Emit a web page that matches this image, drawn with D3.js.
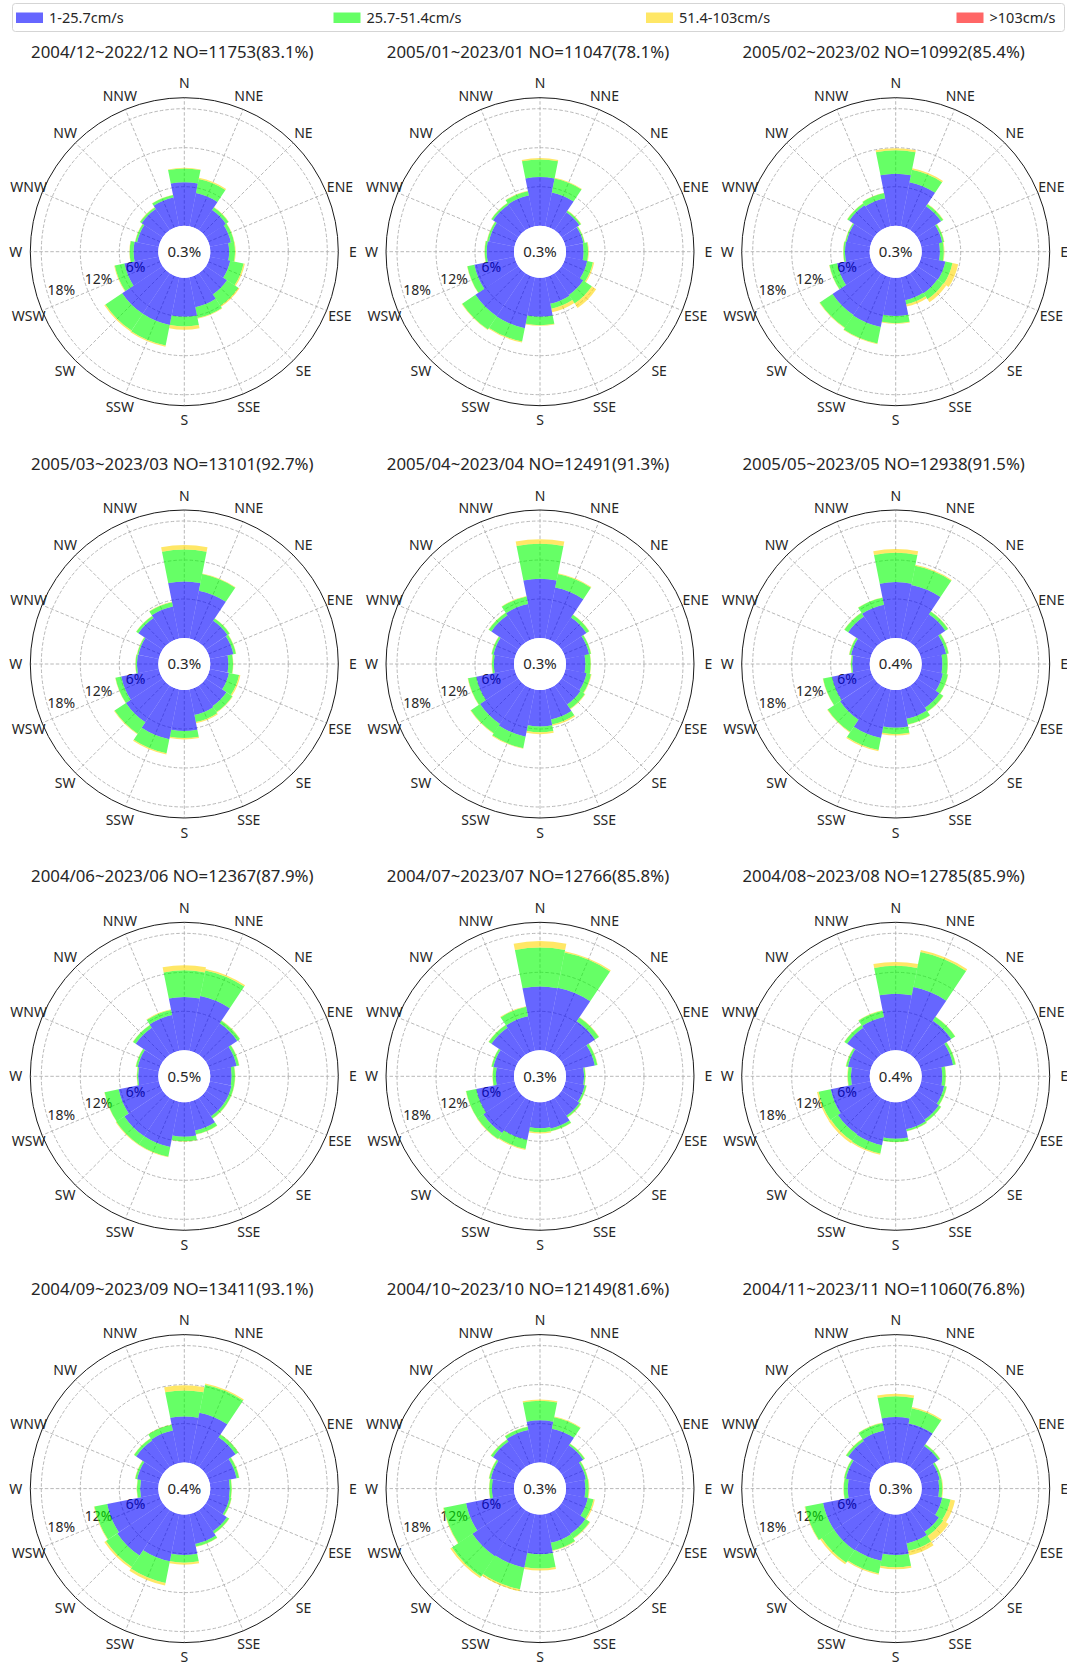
<!DOCTYPE html>
<html>
<head>
<meta charset="utf-8">
<script src="https://cdn.jsdelivr.net/npm/d3@7"></script>
<style>
  html, body { margin: 0; padding: 0; background: #ffffff; }
  svg { display: block; }
  text { font-family: "Noto Sans", "Open Sans", sans-serif; fill: #262626; }
</style>
</head>
<body>
<svg id="chart" width="1067" height="1664"></svg>
<script>
// ---------------- DATA ----------------
const directions = ["N","NNE","NE","ENE","E","ESE","SE","SSE","S","SSW","SW","WSW","W","WNW","NW","NNW"];
const speedBins = ["1-25.7cm/s", "25.7-51.4cm/s", "51.4-103cm/s", ">103cm/s"];
const radialTicks = [6, 12, 18];
const radialTickLabels = ["6%", "12%", "18%"];
const titles = [
  "2004/12~2022/12 NO=11753(83.1%)", "2005/01~2023/01 NO=11047(78.1%)", "2005/02~2023/02 NO=10992(85.4%)",
  "2005/03~2023/03 NO=13101(92.7%)", "2005/04~2023/04 NO=12491(91.3%)", "2005/05~2023/05 NO=12938(91.5%)",
  "2004/06~2023/06 NO=12367(87.9%)", "2004/07~2023/07 NO=12766(85.8%)", "2004/08~2023/08 NO=12785(85.9%)",
  "2004/09~2023/09 NO=13411(93.1%)", "2004/10~2023/10 NO=12149(81.6%)", "2004/11~2023/11 NO=11060(76.8%)"
];
const calmLabels = ["0.3%","0.3%","0.3%","0.3%","0.3%","0.4%","0.5%","0.3%","0.4%","0.4%","0.3%","0.3%"];

// frequency (%) per direction for each speed bin, one set per month panel
const blueDec   = [6.7,5.2,3.7,3.3,2.9,3.2,3.9,4.7,6.0,7.5,7.5,5.4,3.8,3.4,3.9,4.5];
const greenDec  = [2.1,2.2,0.5,0.5,0.9,2.1,2.1,1.7,1.5,3.2,3.1,1.5,0.6,0.3,0.3,0.4];
const yellowDec = [0.1,0.2,0.05,0.05,0.1,0.2,0.2,0.1,0.5,0.2,0.2,0.1,0.05,0.05,0.05,0.05];
const redDec    = [0,0,0,0,0,0,0,0,0,0,0,0,0,0,0,0];

const blueJan   = [7.5,5.3,3.3,2.8,2.7,3.4,4.0,4.15,6.0,8.0,7.95,6.3,4.2,4.0,4.7,4.8];
const greenJan  = [2.7,2.2,0.3,0.2,0.7,0.9,1.6,0.8,1.3,2.1,2.45,1.1,0.3,0.3,0.3,0.7];
const yellowJan = [0.2,0.1,0.05,0.05,0.1,0.2,0.8,0.55,0.1,0.15,0.1,0.05,0.05,0.05,0.05,0.05];
const redJan    = [0,0,0,0,0,0,0,0,0,0,0,0,0,0,0,0];

const blueFeb   = [8.0,6.9,4.4,3.3,2.8,3.8,3.7,3.6,5.9,7.8,7.7,5.2,3.8,3.7,4.6,4.4];
const greenFeb  = [3.6,1.95,0.4,0.3,0.6,1.1,1.1,0.65,1.1,2.6,2.35,1.2,0.25,0.2,0.35,0.8];
const yellowFeb = [0.3,0.25,0.05,0.05,0.1,0.9,0.55,0.35,0.1,0.1,0.1,0.05,0.05,0.05,0.05,0.05];
const redFeb    = [0,0,0,0,0,0,0,0,0,0,0,0,0,0,0,0];

const blueMar   = [8.7,7.5,4.0,3.7,2.8,3.0,3.8,4.0,6.3,7.8,6.8,5.9,3.3,3.2,4.5,5.0];
const greenMar  = [4.9,2.6,0.4,0.4,0.7,1.6,1.1,1.1,1.1,2.2,2.1,0.9,0.2,0.2,0.4,0.7];
const yellowMar = [0.7,0.1,0.05,0.05,0.05,0.2,0.1,0.2,0.2,0.2,0.1,0.05,0.05,0.05,0.05,0.05];
const redMar    = [0,0,0,0,0,0,0,0,0,0,0,0,0,0,0,0];

const blueApr   = [9.1,8.0,4.6,3.7,3.0,3.3,3.5,4.7,5.6,7.4,7.1,6.0,3.1,3.3,5.0,5.4];
const greenApr  = [5.4,2.1,0.5,0.3,0.8,0.7,0.8,0.8,0.9,1.8,1.7,1.3,0.3,0.3,0.5,1.2];
const yellowApr = [0.7,0.15,0.05,0.05,0.05,0.1,0.1,0.2,0.3,0.1,0.1,0.05,0.05,0.05,0.05,0.05];
const redApr    = [0,0,0,0,0,0,0,0,0,0,0,0,0,0,0,0];

const blueMay   = [8.6,8.4,5.2,3.9,3.2,3.4,4.1,4.6,5.8,7.6,6.3,6.0,2.7,3.0,4.8,5.3];
const greenMay  = [4.5,3.0,0.5,0.4,0.8,0.8,0.7,0.9,1.0,1.9,2.3,1.4,0.2,0.3,0.7,1.1];
const yellowMay = [0.6,0.15,0.05,0.05,0.05,0.05,0.05,0.05,0.2,0.2,0.1,0.05,0.05,0.05,0.05,0.05];
const redMay    = [0,0,0,0,0,0,0,0,0,0,0,0,0,0,0,0];

const blueJun   = [8.2,8.6,5.8,4.2,3.3,3.4,3.4,4.5,5.3,7.1,7.1,6.3,3.1,3.3,5.0,5.6];
const greenJun  = [4.1,4.0,0.5,0.4,0.5,0.4,0.4,0.6,0.7,1.5,1.5,2.2,0.2,0.3,0.5,0.8];
const yellowJun = [0.8,0.25,0.05,0.05,0.05,0.05,0.05,0.05,0.05,0.1,0.1,0.05,0.05,0.05,0.05,0.1];
const redJun    = [0,0,0,0,0,0,0,0,0,0,0,0,0,0,0,0];

const blueJul   = [9.8,9.9,6.2,4.6,2.8,3.0,3.3,4.2,4.0,6.0,6.5,6.0,2.8,3.3,5.0,5.4];
const greenJul  = [6.0,5.5,0.7,0.4,0.2,0.3,0.3,0.4,0.6,1.4,1.1,1.6,0.5,0.3,0.5,1.5];
const yellowJul = [1.0,0.2,0.05,0.05,0.05,0.05,0.05,0.05,0.2,0.15,0.1,0.05,0.05,0.05,0.05,0.1];
const redJul    = [0,0,0,0,0,0,0,0,0,0,0,0,0,0,0,0];

const blueAug   = [8.7,10.0,6.3,5.0,3.2,3.6,4.0,4.3,5.6,6.8,6.7,6.2,2.9,3.5,5.0,5.3];
const greenAug  = [4.3,5.5,0.7,0.4,0.5,0.4,0.4,0.3,0.5,1.3,1.3,1.9,0.5,0.3,0.5,1.0];
const yellowAug = [0.6,0.3,0.05,0.05,0.05,0.05,0.05,0.05,0.05,0.2,0.4,0.25,0.05,0.05,0.05,0.05];
const redAug    = [0,0,0,0,0,0,0,0,0,0,0,0,0,0,0,0];

const blueSep   = [7.1,7.9,5.5,4.2,3.0,3.1,3.9,4.7,6.2,7.4,8.4,8.1,2.8,3.4,4.9,5.1];
const greenSep  = [4.0,4.4,0.5,0.4,0.3,0.3,0.4,0.4,1.2,3.4,2.1,2.0,0.5,0.3,0.4,0.9];
const yellowSep = [0.8,0.2,0.05,0.05,0.05,0.05,0.05,0.05,0.3,0.4,0.3,0.1,0.05,0.05,0.05,0.05];
const redSep    = [0,0,0,0,0,0,0,0,0,0,0,0,0,0,0,0];

const blueOct   = [6.5,5.4,4.0,3.2,3.0,3.5,4.4,4.5,6.1,8.4,8.5,7.6,3.4,3.7,4.7,5.2];
const greenOct  = [3.0,1.8,0.3,0.3,0.5,0.9,0.8,1.2,2.2,3.4,3.8,3.5,0.4,0.3,0.4,0.5];
const yellowOct = [0.2,0.1,0.05,0.05,0.1,0.2,0.1,0.1,0.3,0.3,0.3,0.1,0.05,0.05,0.05,0.05];
const redOct    = [0,0,0,0,0,0,0,0,0,0,0,0,0,0,0,0];

const blueNov   = [7.0,6.2,3.9,2.9,2.7,3.3,4.0,4.6,6.2,7.3,7.4,7.4,3.4,3.8,4.8,5.1];
const greenNov  = [3.2,2.4,0.3,0.3,0.5,1.3,0.8,1.2,1.9,2.0,2.3,2.8,0.6,0.3,0.4,1.2];
const yellowNov = [0.4,0.2,0.05,0.05,0.1,0.7,1.0,0.7,0.3,0.2,0.3,0.1,0.05,0.05,0.05,0.05];
const redNov    = [0,0,0,0,0,0,0,0,0,0,0,0,0,0,0,0];

const panelSeries = [
  [blueDec, greenDec, yellowDec, redDec], [blueJan, greenJan, yellowJan, redJan], [blueFeb, greenFeb, yellowFeb, redFeb],
  [blueMar, greenMar, yellowMar, redMar], [blueApr, greenApr, yellowApr, redApr], [blueMay, greenMay, yellowMay, redMay],
  [blueJun, greenJun, yellowJun, redJun], [blueJul, greenJul, yellowJul, redJul], [blueAug, greenAug, yellowAug, redAug],
  [blueSep, greenSep, yellowSep, redSep], [blueOct, greenOct, yellowOct, redOct], [blueNov, greenNov, yellowNov, redNov]
];

// ---------------- STYLE / LAYOUT ----------------
const binColors = ["#0000ff", "#00ff00", "#ffd700", "#ff0000"];
const binOpacity = 0.6;
const holeR = 26, outerR = 154, labelR = 168.5;
const col0 = 184.3, colStep = 355.7, row0 = 251.7, rowStep = 412.3;
const rMax = (outerR - holeR) / 6.5;

const svg = d3.select("#chart");
const rScale = d3.scaleLinear().domain([0, rMax]).range([holeR, outerR]);
const sector = 2 * Math.PI / directions.length;
const angleScale = d3.scaleLinear().domain([0, directions.length]).range([0, 2 * Math.PI]);

// ---------------- LEGEND ----------------
const legend = svg.append("g");
legend.append("rect")
  .attr("x", 12.5).attr("y", 3.5).attr("width", 1052).attr("height", 28)
  .attr("rx", 3).attr("fill", "#fff").attr("stroke", "#d5d5d5").attr("stroke-width", 1);
const legendX = d3.scaleLinear().domain([0, 3]).range([16, 956.5]);
speedBins.forEach((lab, i) => {
  const x = legendX(i) + (i === 1 ? 4 : i === 2 ? 3 : 0);
  legend.append("rect").attr("x", x).attr("y", 12.5).attr("width", 27).attr("height", 10.5)
    .attr("fill", binColors[i]).attr("fill-opacity", binOpacity);
  legend.append("text").attr("x", x + 33).attr("y", 23).attr("font-size", 14.5).text(lab);
});

// ---------------- PANELS ----------------
const arc = d3.arc();
const toXY = (angRad, r) => [r * Math.sin(angRad), -r * Math.cos(angRad)];

panelSeries.forEach((series, p) => {
  const cx = col0 + (p % 3) * colStep;
  const cy = row0 + Math.floor(p / 3) * rowStep;
  const g = svg.append("g").attr("transform", `translate(${cx},${cy})`);

  // title
  svg.append("text").attr("x", cx - 12).attr("y", cy - 194)
    .attr("text-anchor", "middle").attr("font-size", 16.8).text(titles[p]);

  // radial grid circles
  g.selectAll("circle.grid").data(radialTicks).join("circle")
    .attr("class", "grid").attr("r", d => rScale(d))
    .attr("fill", "none").attr("stroke", "#b0b0b0").attr("stroke-width", 0.9)
    .attr("stroke-dasharray", "3.5,2");

  // spokes
  directions.forEach((d, i) => {
    const a = angleScale(i);
    const [x1, y1] = toXY(a, holeR);
    const [x2, y2] = toXY(a, outerR);
    g.append("line").attr("x1", x1).attr("y1", y1).attr("x2", x2).attr("y2", y2)
      .attr("stroke", "#b0b0b0").attr("stroke-width", 0.9).attr("stroke-dasharray", "3.5,2");
  });

  // radial tick labels (under the bars)
  const labAng = (270 - 17.5) * Math.PI / 180;
  radialTicks.forEach((t, k) => {
    const [x, y] = toXY(labAng, rScale(t) - 14);
    g.append("text").attr("x", x).attr("y", y).attr("dy", "0.35em")
      .attr("text-anchor", "middle").attr("font-size", 14).text(radialTickLabels[k]);
  });

  // stacked bars
  directions.forEach((d, i) => {
    let cum = 0;
    series.forEach((vals, b) => {
      const v = vals[i];
      if (v <= 0) return;
      const a0 = angleScale(i) - sector / 2, a1 = angleScale(i) + sector / 2;
      g.append("path")
        .attr("d", arc({ innerRadius: rScale(cum), outerRadius: rScale(cum + v), startAngle: a0, endAngle: a1 }))
        .attr("fill", binColors[b]).attr("fill-opacity", binOpacity);
      cum += v;
    });
  });

  // calm hole
  g.append("circle").attr("r", holeR).attr("fill", "#fff");
  g.append("text").attr("x", 0).attr("y", 0).attr("dy", "0.36em").attr("text-anchor", "middle")
    .attr("font-size", 15).text(calmLabels[p]);

  // outer spine
  g.append("circle").attr("r", outerR).attr("fill", "none").attr("stroke", "#1a1a1a").attr("stroke-width", 1);

  // direction labels
  directions.forEach((d, i) => {
    const [x, y] = toXY(angleScale(i), labelR);
    g.append("text").attr("x", x).attr("y", y).attr("dy", "0.36em")
      .attr("text-anchor", "middle").attr("font-size", 14).text(d);
  });
});
</script>
</body>
</html>
